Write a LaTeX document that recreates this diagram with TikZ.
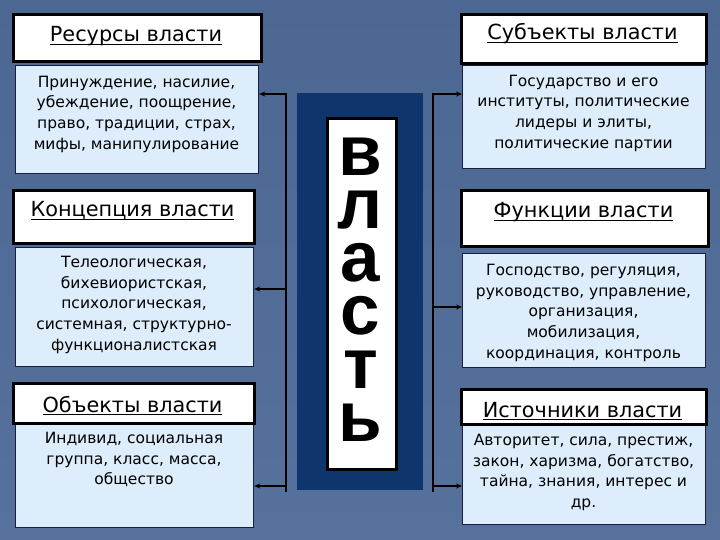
\documentclass[tikz,border=0pt]{standalone}
\usepackage{fontspec}
\setmainfont{DejaVu Sans}
\newfontfamily\bigfont{Liberation Sans}
\usetikzlibrary{arrows.meta}
\definecolor{bgtop}{RGB}{76,104,146}
\definecolor{bgbot}{RGB}{86,114,156}
\definecolor{navy}{RGB}{14,54,108}
\definecolor{pale}{RGB}{221,237,251}
\definecolor{edge}{RGB}{22,32,62}
\newcommand\myul[1]{\setbox0\hbox{#1}\rlap{\rule[-3pt]{\wd0}{1.3pt}}\box0}
\begin{document}
\begin{tikzpicture}[x=1pt,y=-1pt,
  titlebox/.style={draw=black, line width=3pt, fill=white, inner sep=0, anchor=north west},
  infobox/.style={draw=edge, line width=1.2pt, fill=pale, inner sep=0, anchor=north west},
  ttl/.style={font=\fontsize{20.8}{24}\selectfont, anchor=base, inner sep=0},
  info/.style={font=\fontsize{15.5}{20.8}\selectfont, align=center, anchor=north, inner sep=0},
  letters/.style={font=\bigfont\bfseries\fontsize{71}{53.2}\selectfont, align=center, inner sep=0},
  conn/.style={line width=2pt, black},
  arr/.style={line width=1.6pt, black, -{Stealth[length=6pt,width=5pt]}}]
\useasboundingbox (0,0) rectangle (720,540);
\shade[top color=bgtop, bottom color=bgbot] (0,0) rectangle (720,540);

% central block
\node[fill=navy, inner sep=0, anchor=north west, minimum width=126pt, minimum height=397pt] (core) at (297,93) {};
\node[draw=black, line width=3pt, fill=white, inner sep=0, anchor=north west, minimum width=69pt, minimum height=351pt] (wbox) at (326,117) {};
\node[letters] (word) at (360.5,289.6) {в\\л\\а\\с\\т\\ь};

% left column
\node[infobox, minimum width=243pt, minimum height=108pt] (c1) at (15,65) {};
\node[titlebox, minimum width=248pt, minimum height=47pt] (t1) at (12,13) {};
\node[ttl] (tt1) at (136,42) {\myul{Ресурсы власти}};
\node[info] (x1) at (136.5,75.7) {Принуждение, насилие,\\убеждение, поощрение,\\право, традиции, страх,\\мифы, манипулирование};

\node[infobox, minimum width=238pt, minimum height=119pt] (c3) at (15,247) {};
\node[titlebox, minimum width=241pt, minimum height=53pt] (t3) at (12,189) {};
\node[ttl] (tt3) at (132.5,217) {\myul{Концепция власти}};
\node[info] (x3) at (134,255.7) {Телеологическая,\\бихевиористская,\\психологическая,\\системная, структурно-\\функционалистская};

\node[infobox, minimum width=238pt, minimum height=104pt] (c5) at (15,423) {};
\node[titlebox, minimum width=241pt, minimum height=40pt] (t5) at (12,382) {};
\node[ttl] (tt5) at (132.5,412) {\myul{Объекты власти}};
\node[info] (x5) at (134,431.7) {Индивид, социальная\\группа, класс, масса,\\общество};

% right column
\node[infobox, minimum width=243pt, minimum height=103pt] (c2) at (462,65) {};
\node[titlebox, minimum width=245pt, minimum height=49pt] (t2) at (460,13) {};
\node[ttl] (tt2) at (582.5,40) {\myul{Субъекты власти}};
\node[info] (x2) at (583.5,74.7) {Государство и его\\институты, политические\\лидеры и элиты,\\политические партии};

\node[infobox, minimum width=243pt, minimum height=114pt] (c4) at (462,253) {};
\node[titlebox, minimum width=247pt, minimum height=56pt] (t4) at (460,189) {};
\node[ttl] (tt4) at (583.5,218) {\myul{Функции власти}};
\node[info] (x4) at (583.5,263.7) {Господство, регуляция,\\руководство, управление,\\организация,\\мобилизация,\\координация, контроль};

\node[infobox, minimum width=243pt, minimum height=101pt] (c6) at (462,423) {};
\node[titlebox, minimum width=245pt, minimum height=35pt] (t6) at (460,388) {};
\node[ttl] (tt6) at (582.5,417) {\myul{Источники власти}};
\node[info] (x6) at (583.5,433.7) {Авторитет, сила, престиж,\\закон, харизма, богатство,\\тайна, знания, интерес и\\др.};

% connectors
\coordinate (la) at (286,93);
\coordinate (lb) at (286,492);
\coordinate (ra) at (433,93);
\coordinate (rb) at (433,492);
\draw[conn] (la) -- (lb);
\draw[conn] (ra) -- (rb);
\coordinate (l1) at (286,94);
\coordinate (l2) at (286,289);
\coordinate (l3) at (286,486);
\coordinate (r1) at (433,94);
\coordinate (r2) at (433,307);
\coordinate (r3) at (433,486);
\draw[arr] (l1) -- (l1 -| c1.east);
\draw[arr] (l2) -- (l2 -| c3.east);
\draw[arr] (l3) -- (l3 -| c5.east);
\draw[arr] (r1) -- (r1 -| c2.west);
\draw[arr] (r2) -- (r2 -| c4.west);
\draw[arr] (r3) -- (r3 -| c6.west);
\end{tikzpicture}
\end{document}
